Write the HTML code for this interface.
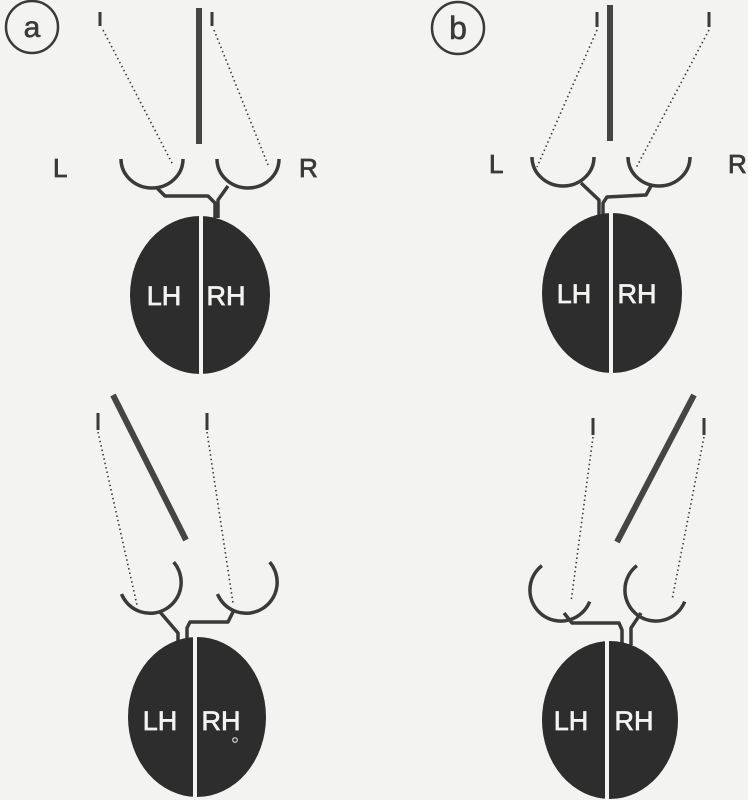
<!DOCTYPE html>
<html><head><meta charset="utf-8"><style>
html,body{margin:0;padding:0;background:#f3f3f1;}
svg{display:block}
text{font-family:"Liberation Sans",sans-serif;}
</style></head><body>
<svg width="748" height="800" viewBox="0 0 748 800" xmlns="http://www.w3.org/2000/svg">
<rect width="748" height="800" fill="#f3f3f1"/>
<g fill="none" stroke="#3a3a3a" stroke-width="2.5">
<circle cx="32" cy="27" r="26"/>
<circle cx="458" cy="28" r="26"/>
</g>
<text x="32" y="37" font-size="30" text-anchor="middle" fill="#3a3a3a" stroke="#3a3a3a" stroke-width="0.6">a</text>
<text x="458" y="39" font-size="32" text-anchor="middle" fill="#3a3a3a" stroke="#3a3a3a" stroke-width="0.6">b</text>
<g fill="#3a3a3a" font-size="26" stroke="#3a3a3a" stroke-width="0.8">
<text x="53" y="177">L</text>
<text x="299" y="177">R</text>
<text x="489" y="173">L</text>
<text x="728" y="173">R</text>
</g>
<g stroke="#3a3a3a" stroke-width="3">
<line x1="100" y1="12" x2="100" y2="26"/><line x1="212" y1="12" x2="212" y2="26"/>
<line x1="597" y1="12" x2="597" y2="27"/><line x1="709" y1="12" x2="709" y2="27"/>
<line x1="98" y1="413" x2="98" y2="430"/><line x1="207" y1="413" x2="207" y2="430"/>
<line x1="593" y1="418" x2="593" y2="435"/><line x1="704" y1="418" x2="704" y2="435"/>
</g>
<g stroke="#454545" stroke-width="6">
<line x1="199" y1="8" x2="199" y2="144"/>
<line x1="610" y1="5" x2="610" y2="141"/>
<line x1="113" y1="395" x2="186" y2="540"/>
<line x1="694" y1="395" x2="617" y2="542"/>
</g>
<g stroke="#3a3a3a" stroke-width="1.6" stroke-dasharray="1.5 3">
<line x1="103" y1="30" x2="173" y2="165"/><line x1="214" y1="30" x2="268" y2="165"/>
<line x1="597" y1="30" x2="537" y2="167"/><line x1="709" y1="30" x2="636" y2="168"/>
<line x1="98" y1="432" x2="137" y2="605"/><line x1="207" y1="432" x2="233" y2="603"/>
<line x1="593" y1="437" x2="571" y2="602"/><line x1="704" y1="437" x2="672" y2="600"/>
</g>
<g fill="none" stroke="#3a3a3a" stroke-width="3.5" stroke-linejoin="round">
<path d="M121,159 A31,29 0 0 0 183,159"/>
<path d="M217,159 A31,29 0 0 0 279,159"/>
<path d="M157,188 L165,196 L208,196 L215,203 L215,218"/>
<path d="M228,186 L218,200 L218,218"/>

<path d="M532,157 A31,29 0 0 0 594,157"/>
<path d="M628,157 A31,29 0 0 0 690,157"/>
<path d="M581,183 L599,200 L599,215"/>
<path d="M651,186 L646,195 L607,197 L603,203 L603,215"/>

<path d="M121.5,594.1 A31,31 0 1 0 173.7,562.1"/>
<path d="M217.5,594.1 A31,31 0 1 0 269.7,562.1"/>
<path d="M160,612 L178,633 L178,645"/>
<path d="M233,612 L228,622 L190,622 L187,628 L187,645"/>

<path d="M541.9,565.6 A31,31 0 1 0 589.7,601.6"/>
<path d="M636.9,565.6 A31,31 0 1 0 684.7,601.6"/>
<path d="M564,613 L572,623 L619,623 L622,630 L622,645"/>
<path d="M641,613 L631,628 L631,645"/>
</g>
<g fill="#2d2d2d">
<ellipse cx="200" cy="295" rx="70" ry="79"/>
<ellipse cx="612" cy="293" rx="70" ry="80"/>
<ellipse cx="197" cy="717" rx="69" ry="80"/>
<ellipse cx="610" cy="720" rx="68" ry="79"/>
</g>
<g stroke="#f3f3f1" stroke-width="4">
<line x1="201" y1="214" x2="201" y2="376"/>
<line x1="611" y1="211" x2="611" y2="375"/>
<line x1="195" y1="636" x2="195" y2="800"/>
<line x1="607" y1="640" x2="607" y2="800"/>
</g>
<g fill="#f3f3f1" font-size="27" text-anchor="middle" stroke="#f3f3f1" stroke-width="0.7">
<text x="164" y="305">LH</text><text x="226" y="305">RH</text>
<text x="574" y="303">LH</text><text x="637" y="303">RH</text>
<text x="160" y="730">LH</text><text x="221" y="730">RH</text>
<text x="571" y="730">LH</text><text x="634" y="730">RH</text>
</g>
<circle cx="235" cy="740" r="2.3" fill="none" stroke="#f3f3f1" stroke-width="1"/>
</svg>
</body></html>
